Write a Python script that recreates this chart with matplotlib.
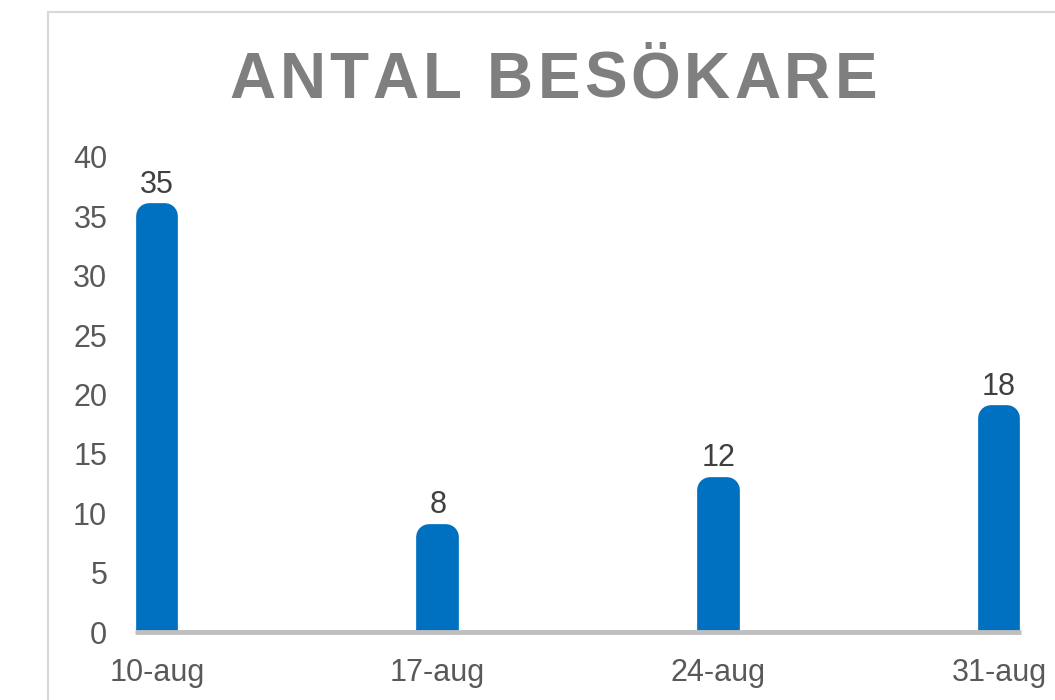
import numpy as np
import matplotlib
matplotlib.use("Agg")
import matplotlib.pyplot as plt
import matplotlib.dates as mdates
from matplotlib.patches import Rectangle
from datetime import datetime, timedelta

# data
datum = ["2019-08-10", "2019-08-17", "2019-08-24", "2019-08-31"]
etiketter = ["10-aug", "17-aug", "24-aug", "31-aug"]
besokare = [35, 8, 12, 18]
titel = "ANTAL BESÖKARE"

plt.rcParams['font.family'] = ['Liberation Sans', 'DejaVu Sans']

x = [datetime.strptime(d, "%Y-%m-%d") for d in datum]
blue = '#0070C0'

fig = plt.figure(figsize=(10.55, 7), dpi=100)
# chart area border
fig.patches.append(Rectangle((48 / 1055, -0.1), 1.2, 1 - 12 / 700 + 0.1,
                             transform=fig.transFigure, facecolor='none',
                             edgecolor='#D9D9D9', linewidth=1.6, zorder=-1))

ax = fig.add_axes([135 / 1055, 1 - 632 / 700, 886 / 1055, 475 / 700])
ax.set_facecolor('none')

# bars with rounded tops (thick round-joined edge)
ax.bar(x, besokare, width=0.42, color=blue, edgecolor=blue,
       linewidth=18.5, joinstyle='round', zorder=2)

for xi, v in zip(x, besokare):
    ax.annotate(str(v), (mdates.date2num(xi), v), xytext=(0, 12),
                textcoords='offset points', ha='center', va='bottom',
                fontsize=22, color='#404040')

ax.set_ylim(0, 40)
ax.set_yticks(np.arange(0, 41, 5))
ax.set_xlim(x[0] - timedelta(days=0.55), x[-1] + timedelta(days=0.55))
ax.set_xticks(x)
ax.set_xticklabels(etiketter)
ax.tick_params(axis='both', length=0, labelsize=22, labelcolor='#595959')
ax.tick_params(axis='y', pad=20)
ax.tick_params(axis='x', pad=19)

for s in ['top', 'right', 'left']:
    ax.spines[s].set_visible(False)
ax.spines['bottom'].set_color('#BFBFBF')
ax.spines['bottom'].set_linewidth(3.5)
ax.spines['bottom'].set_capstyle('butt')
ax.spines['bottom'].set_zorder(5)

# title with letter spacing, placed char by char
renderer = fig.canvas.get_renderer()
spacing = 4.0  # px between letters
tsize = 46
widths = []
for ch in titel:
    t = fig.text(0, 0, ch if ch != ' ' else 'I', fontsize=tsize, fontweight='bold')
    widths.append(t.get_window_extent(renderer).width)
    t.remove()
total = sum(widths) + spacing * (len(titel) - 1)
xpos = 553 - total / 2
for ch, w in zip(titel, widths):
    fig.text(xpos / 1055, 1 - 98 / 700, ch, ha='left', va='baseline',
             fontsize=tsize, fontweight='bold', color='#7F7F7F')
    xpos += w + spacing

fig.savefig('out.png', dpi=100)
